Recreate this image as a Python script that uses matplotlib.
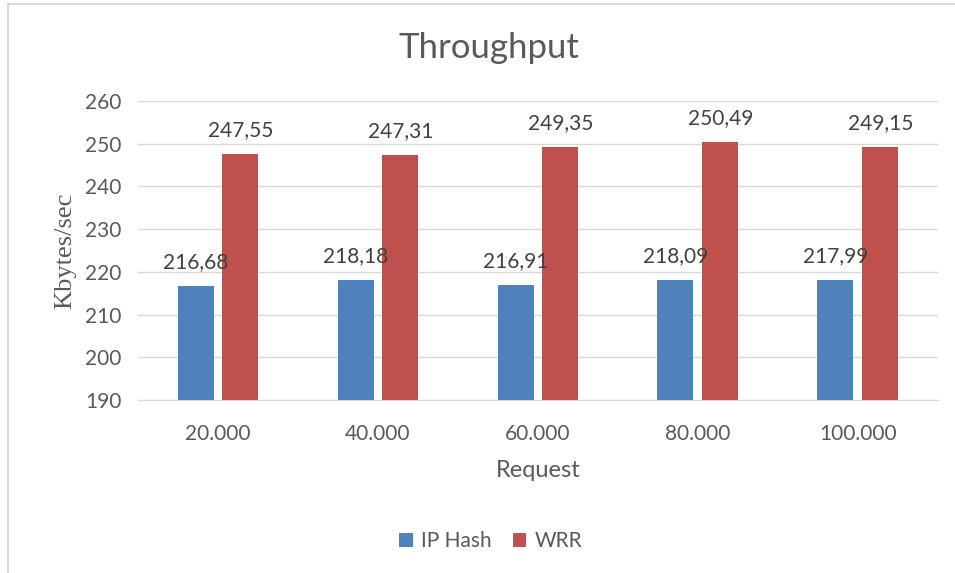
import matplotlib
matplotlib.use("Agg")
import matplotlib.pyplot as plt
import numpy as np
from matplotlib.lines import Line2D

categories = ["20.000", "40.000", "60.000", "80.000", "100.000"]
ip_hash = [216.68, 218.18, 216.91, 218.09, 217.99]
wrr = [247.55, 247.31, 249.35, 250.49, 249.15]
series_names = ["IP Hash", "WRR"]
colors = ["#4F81BD", "#C0504D"]
text_color = "#595959"
font = "Lato"

fig = plt.figure(figsize=(9.55, 5.73), dpi=100)
ax = fig.add_axes([0.1445, 0.302, 0.8375, 0.5217])

x = np.arange(len(categories))
w = 0.225
b1 = ax.bar(x - 0.14, np.array(ip_hash) - 190, w, bottom=190, color=colors[0], label=series_names[0], zorder=3)
b2 = ax.bar(x + 0.14, np.array(wrr) - 190, w, bottom=190, color=colors[1], label=series_names[1], zorder=3)

for bars, vals in ((b1, ip_hash), (b2, wrr)):
    for r, v in zip(bars, vals):
        ax.annotate(f"{v:.2f}".replace(".", ","), (r.get_x() + r.get_width() / 2, v),
                    xytext=(0, 10), textcoords="offset points", ha="center", va="bottom",
                    fontsize=15, color="#404040", family=font)

ax.set_xlim(-0.5, len(categories) - 0.5)
ax.set_ylim(190, 260)
ax.set_yticks(np.arange(190, 261, 10))
ax.set_xticks(x)
ax.set_xticklabels(categories)
ax.grid(axis="y", color="#D9D9D9", linewidth=1, zorder=0)
for s in ("top", "right", "left"):
    ax.spines[s].set_visible(False)
ax.spines["bottom"].set_color("#D9D9D9")
ax.tick_params(axis="both", length=0, labelsize=15, labelcolor=text_color, pad=12)
for lab in ax.get_xticklabels() + ax.get_yticklabels():
    lab.set_family(font)
ax.tick_params(axis="x", pad=17)

fig.text(0.512, 0.916, "Throughput", fontsize=25, color=text_color, family=font, ha="center", va="center")
ax.set_xlabel("Request", fontsize=17, color=text_color, family=font, labelpad=12)
ax.set_ylabel("Kbytes/sec", fontsize=19, color=text_color, family="Liberation Serif", labelpad=6)

leg = fig.legend(handles=[b1, b2], labels=series_names, loc="center", bbox_to_anchor=(0.514, 0.056),
                 ncol=2, frameon=False, prop={"family": font, "size": 15},
                 handlelength=0.65, handleheight=0.65, handletextpad=0.4, columnspacing=1.0)
for t in leg.get_texts():
    t.set_color(text_color)

fig.add_artist(Line2D([7.5 / 955, 7.5 / 955], [0, 1 - 3.5 / 573], transform=fig.transFigure,
                      color="#D9D9D9", linewidth=1.5))
fig.add_artist(Line2D([7.5 / 955, 1], [1 - 3.5 / 573, 1 - 3.5 / 573], transform=fig.transFigure,
                      color="#D9D9D9", linewidth=1.5))

fig.savefig("out.png", dpi=100)
